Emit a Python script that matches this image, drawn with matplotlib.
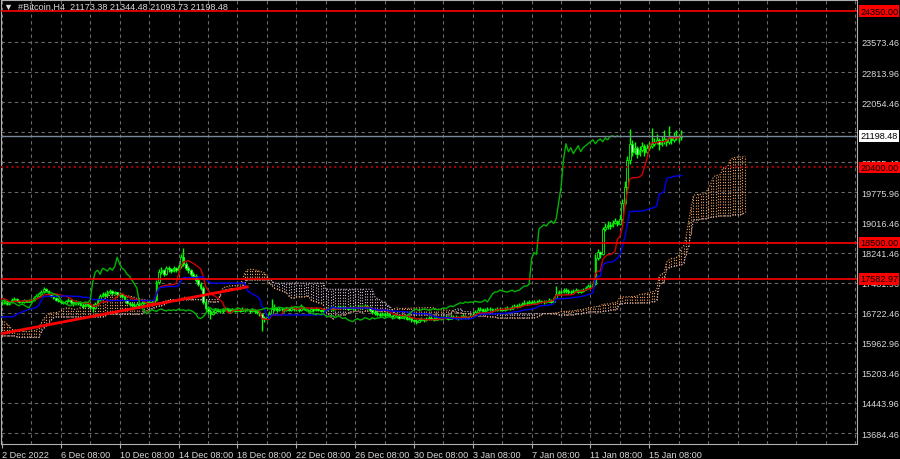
import numpy as np
import pandas as pd
import matplotlib.pyplot as plt
from matplotlib.transforms import blended_transform_factory

plt.rcParams['font.family'] = ['Liberation Sans', 'DejaVu Sans']

# 4h bars before 2 Dec (off the left edge, only feed the Ichimoku lines)
pre_close = [16650, 16680, 16620, 16700, 16660, 16690,
             16720, 16650, 16580, 16500, 16400, 16300,
             16200, 16100, 15900, 15800, 15650, 15750,
             15800, 15700, 15850, 16000, 16150, 16200,
             16250, 16300, 16400, 16500, 16550, 16600,
             16620, 16580, 16600, 16550, 16600, 16580,
             16550, 16500, 16520, 16480, 16500, 16520,
             16500, 16550, 16520, 16540, 16500, 16480,
             16500, 16520, 16480, 16450, 16420, 16400,
             16300, 16200, 16100, 16050, 16150, 16200,
             16250, 16300, 16350, 16400, 16420, 16450,
             16500, 16600, 16800, 17000, 17100, 17150,
             17100, 17050, 17000, 16980, 16950, 16960]
pre_high = [16700, 16730, 16700, 16740, 16720, 16730,
            16780, 16740, 16660, 16600, 16520, 16420,
            16330, 16230, 16120, 15930, 15820, 15820,
            15880, 15830, 15900, 16060, 16200, 16260,
            16300, 16350, 16450, 16560, 16610, 16650,
            16700, 16650, 16640, 16620, 16640, 16630,
            16600, 16560, 16560, 16540, 16540, 16560,
            16540, 16590, 16580, 16580, 16560, 16530,
            16540, 16560, 16540, 16500, 16470, 16450,
            16420, 16320, 16220, 16130, 16180, 16240,
            16290, 16340, 16390, 16440, 16460, 16490,
            16540, 16650, 16850, 17050, 17150, 17250,
            17200, 17120, 17080, 17030, 17000, 16990]
pre_low = [16600, 16630, 16580, 16610, 16630, 16640,
           16670, 16620, 16550, 16460, 16360, 16260,
           16160, 16050, 15850, 15700, 15500, 15620,
           15720, 15620, 15680, 15820, 15960, 16120,
           16160, 16220, 16280, 16380, 16480, 16540,
           16570, 16540, 16550, 16500, 16530, 16540,
           16510, 16470, 16470, 16440, 16450, 16480,
           16470, 16480, 16490, 16500, 16470, 16450,
           16460, 16470, 16440, 16400, 16390, 16360,
           16250, 16150, 16000, 15990, 16030, 16130,
           16180, 16230, 16280, 16330, 16380, 16400,
           16430, 16480, 16580, 16780, 16980, 17080,
           17030, 16990, 16950, 16930, 16900, 16910]

# visible 4h bars, 2 Dec 08:00 onwards
close = [16980, 17020, 16950, 17000, 17060, 17080, 17030, 17000, 16990, 17040, 17010, 17030,
         17050, 17100, 17150, 17200, 17250, 17320, 17280, 17200, 17150, 17100, 17060, 17020,
         17000, 16980, 17020, 17050, 16990, 16950, 17000, 16970, 16930, 16900, 16950, 16920,
         16880, 16850, 16950, 17050, 17150, 17200, 17180, 17250, 17270, 17220, 17240, 17200,
         17180, 17150, 17050, 16980, 16950, 16920, 16900, 16950, 16930, 16980, 17000, 16970,
         17000, 16980, 17050, 17500, 17750, 17800, 17700, 17850, 17820, 17780, 17860, 17800,
         17900, 18130, 17950, 17850, 17800, 17700, 17650, 17550, 17450, 17350, 17000, 16850,
         16780, 16700, 16750, 16800, 16780, 16760, 16800, 16820, 16790, 16770, 16800, 16780,
         16800, 16780, 16820, 16790, 16800, 16770, 16800, 16780, 16750, 16700, 16600, 16580,
         16620, 16700, 16820, 16850, 16800, 16830, 16810, 16790, 16820, 16800, 16840, 16810,
         16820, 16800, 16850, 16830, 16800, 16780, 16810, 16790, 16820, 16800, 16780, 16800,
         16810, 16830, 16850, 16820, 16840, 16860, 16850, 16870, 16850, 16830, 16860, 16840,
         16850, 16870, 16880, 16860, 16900, 16870, 16800, 16750, 16720, 16700, 16680, 16700,
         16680, 16700, 16650, 16620, 16660, 16640, 16600, 16650, 16620, 16580, 16600, 16550,
         16520, 16500, 16550, 16580, 16540, 16560, 16600, 16580, 16550, 16600, 16570, 16590,
         16600, 16620, 16580, 16610, 16630, 16600, 16590, 16620, 16640, 16610, 16600, 16650,
         16680, 16750, 16800, 16820, 16780, 16800, 16820, 16810, 16790, 16800, 16830, 16810,
         16800, 16820, 16850, 16830, 16870, 16900, 16880, 16920, 16950, 16980, 16960, 17000,
         16980, 17000, 16990, 17020, 17000, 16990, 17010, 17050, 17000, 17100, 17200, 17250,
         17250, 17300, 17280, 17260, 17250, 17270, 17300, 17260, 17280, 17300, 17350, 17400,
         17400, 17450, 18100, 18250, 18200, 18850, 18900, 18950, 18920, 19000, 19050, 18980,
         19100, 19500, 19900, 20600, 21000, 20800, 20900, 20750, 20850, 20950, 20800, 20900,
         20950, 21000, 21050, 21100, 21000, 21080, 21120, 21050, 21150, 21100, 21180, 21200,
         21173.38, 21198.48]
high = [17020, 17060, 17040, 17030, 17100, 17130, 17090, 17050, 17030, 17080, 17060, 17070,
        17090, 17140, 17190, 17240, 17300, 17380, 17350, 17300, 17230, 17180, 17130, 17090,
        17060, 17030, 17060, 17090, 17070, 17010, 17040, 17030, 16990, 16960, 16990, 16980,
        16950, 16920, 16990, 17100, 17200, 17260, 17240, 17300, 17330, 17290, 17280, 17260,
        17240, 17220, 17170, 17080, 17010, 16990, 16960, 17000, 16990, 17030, 17050, 17030,
        17050, 17040, 17100, 17560, 17820, 17880, 17830, 17920, 17900, 17870, 17920, 17890,
        17960, 18200, 18370, 18000, 17900, 17840, 17760, 17700, 17600, 17500, 17400, 17050,
        16900, 16820, 16800, 16850, 16840, 16820, 16850, 16870, 16850, 16820, 16840, 16830,
        16840, 16830, 16880, 16850, 16840, 16820, 16850, 16830, 16800, 16780, 16720, 16650,
        16680, 16760, 17070, 16950, 16880, 16880, 16860, 16840, 16870, 16850, 16890, 16860,
        16870, 16850, 16950, 16880, 16850, 16830, 16860, 16840, 16870, 16850, 16830, 16850,
        16850, 16880, 16900, 16880, 16890, 16910, 16900, 16920, 16900, 16880, 16910, 16890,
        16900, 16920, 16930, 16910, 16950, 16930, 16890, 16830, 16790, 16760, 16740, 16750,
        16740, 16750, 16720, 16680, 16700, 16690, 16660, 16690, 16670, 16640, 16640, 16610,
        16580, 16560, 16600, 16630, 16600, 16610, 16650, 16640, 16610, 16650, 16630, 16640,
        16650, 16670, 16640, 16660, 16680, 16660, 16640, 16670, 16690, 16670, 16650, 16700,
        16720, 16800, 16860, 16880, 16850, 16850, 16870, 16860, 16840, 16850, 16880, 16860,
        16850, 16870, 16900, 16880, 16920, 16950, 16940, 16970, 17000, 17040, 17020, 17050,
        17040, 17050, 17040, 17070, 17060, 17040, 17060, 17100, 17070, 17150, 17400, 17300,
        17300, 17360, 17340, 17320, 17300, 17320, 17350, 17330, 17330, 17350, 17400, 17460,
        17460, 17520, 18200, 18340, 18300, 18900, 19000, 19050, 19020, 19080, 19120, 19080,
        19200, 19600, 20050, 20700, 21370, 21100, 21050, 20950, 20950, 21050, 21000, 21000,
        21050, 21400, 21150, 21250, 21150, 21200, 21350, 21150, 21450, 21200, 21300, 21350,
        21250, 21344.48]
low = [16920, 16950, 16930, 16920, 16980, 17030, 17000, 16970, 16960, 16970, 16990, 16990,
       17000, 17020, 17080, 17120, 17170, 17220, 17250, 17180, 17120, 17080, 17030, 16990,
       16960, 16940, 16960, 16990, 16950, 16900, 16930, 16930, 16890, 16850, 16880, 16880,
       16820, 16740, 16830, 16930, 17030, 17120, 17130, 17150, 17210, 17180, 17190, 17150,
       17130, 17100, 17010, 16940, 16900, 16880, 16860, 16880, 16890, 16910, 16950, 16930,
       16940, 16940, 16960, 17030, 17450, 17700, 17650, 17680, 17760, 17720, 17750, 17750,
       17760, 17870, 17900, 17800, 17730, 17650, 17580, 17500, 17400, 17300, 16950, 16780,
       16700, 16580, 16660, 16720, 16740, 16710, 16730, 16770, 16750, 16730, 16740, 16740,
       16750, 16740, 16760, 16750, 16760, 16720, 16750, 16730, 16700, 16650, 16270, 16500,
       16540, 16600, 16680, 16780, 16740, 16770, 16760, 16750, 16770, 16760, 16780, 16770,
       16770, 16750, 16780, 16790, 16760, 16740, 16760, 16750, 16770, 16760, 16740, 16750,
       16770, 16790, 16800, 16780, 16800, 16820, 16810, 16830, 16810, 16790, 16820, 16800,
       16800, 16820, 16840, 16820, 16850, 16830, 16760, 16700, 16680, 16650, 16630, 16650,
       16630, 16650, 16610, 16580, 16600, 16600, 16560, 16590, 16580, 16540, 16550, 16500,
       16480, 16450, 16480, 16520, 16500, 16510, 16540, 16540, 16510, 16540, 16530, 16550,
       16550, 16570, 16540, 16560, 16590, 16560, 16550, 16570, 16600, 16570, 16560, 16590,
       16620, 16660, 16730, 16770, 16740, 16750, 16770, 16770, 16750, 16760, 16780, 16770,
       16760, 16780, 16800, 16790, 16820, 16850, 16840, 16870, 16900, 16930, 16920, 16940,
       16940, 16950, 16950, 16970, 16960, 16950, 16960, 17000, 16960, 16990, 17090, 17180,
       17200, 17230, 17230, 17210, 17200, 17220, 17250, 17220, 17230, 17250, 17290, 17340,
       17340, 17380, 17440, 18050, 18100, 18180, 18800, 18850, 18850, 18900, 18960, 18920,
       18950, 19050, 19450, 19850, 20500, 20700, 20750, 20650, 20700, 20800, 20700, 20750,
       20850, 20900, 20950, 21000, 20850, 20950, 21000, 20950, 21000, 21000, 21050, 21100,
       21050, 21093.73]

date_labels = ['2 Dec 2022', '6 Dec 08:00', '10 Dec 08:00', '14 Dec 08:00', '18 Dec 08:00',
               '22 Dec 08:00', '26 Dec 08:00', '30 Dec 08:00', '3 Jan 08:00', '7 Jan 08:00',
               '11 Jan 08:00', '15 Jan 08:00']
price_ticks = [13684.46, 14443.96, 15203.46, 15962.96, 16722.46, 17481.96, 18241.46,
               19016.46, 19775.96, 20535.46, 21294.96, 22054.46, 22813.96, 23573.46]
solid_levels = [24350.00, 18500.00, 17582.97]
dotted_level = 20400.00
last_price = 21198.48
trend_x = [-0.8, 100]
trend_y = [16190, 17380]
title = '#Bitcoin,H4  21173.38 21344.48 21093.73 21198.48'

# ---- data prep
c = np.array(pre_close + close, dtype=float)
h = np.array(pre_high + high, dtype=float)
l = np.array(pre_low + low, dtype=float)
o = np.r_[c[0], c[:-1]]
o[-1] = 21173.38
x = np.arange(len(c)) - len(pre_close)

hs, ls = pd.Series(h), pd.Series(l)
tenkan = ((hs.rolling(9).max() + ls.rolling(9).min()) / 2).values
kijun = ((hs.rolling(26).max() + ls.rolling(26).min()) / 2).values
span_a = (tenkan + kijun) / 2
span_b = ((hs.rolling(52).max() + ls.rolling(52).min()) / 2).values

BG = '#000000'
GRID = '#6a6a6a'
TXT = '#d8d8d8'
FS = 6.6

fig = plt.figure(figsize=(9, 4.6), dpi=100, facecolor=BG)
ax = fig.add_axes([1 / 900, 15 / 460, 856 / 900, 444 / 460], facecolor=BG)
ax.set_xlim(-0.41, 348.7)
ax.set_ylim(13406.3, 24635.6)

# grid
for gx in np.arange(0, 349, 12):
    ax.axvline(gx, color=GRID, lw=0.8, ls=(0, (3, 3)), zorder=0)
for gy in price_ticks:
    ax.axhline(gy, color=GRID, lw=0.8, ls=(0, (3, 3)), zorder=0)

# cloud (dotted hatch between senkou A and B, shifted 26 bars forward)
xs = x + 26
ok = ~np.isnan(span_b)
cols = np.where(span_a[ok] >= span_b[ok], '#f4a460', '#d8bfd8')
ax.vlines(xs[ok], np.minimum(span_a[ok], span_b[ok]), np.maximum(span_a[ok], span_b[ok]),
          colors=cols, linestyles=(0, (1, 1.5)), lw=0.8, zorder=1)
ax.plot(xs, span_a, color='#f4a460', lw=0.8, ls=(0, (1, 1.5)), zorder=1)
ax.plot(xs, span_b, color='#d8bfd8', lw=0.8, ls=(0, (1, 1.5)), zorder=1)

# candles
vis = x >= 0
xv, ov, hv, lv, cv = x[vis], o[vis], h[vis], l[vis], c[vis]
ax.vlines(xv, lv, hv, color='#00ff00', lw=1.0, zorder=2)
bull = cv >= ov
body = np.maximum(np.abs(cv - ov), 8)
ax.bar(xv[bull], body[bull], bottom=np.minimum(ov, cv)[bull], width=0.7,
       color='#000000', edgecolor='#00ff00', lw=0.6, zorder=2)
ax.bar(xv[~bull], body[~bull], bottom=np.minimum(ov, cv)[~bull], width=0.7,
       color='#d8ffd8', edgecolor='#00ff00', lw=0.6, zorder=2)

# ichimoku lines
ax.plot(x, tenkan, color='#d00000', lw=1.0, zorder=3)
ax.plot(x, kijun, color='#0000ee', lw=1.0, zorder=3)
ax.plot(x[vis] - 26, c[vis], color='#00b400', lw=1.0, zorder=3)

# levels and trend line
for lv_ in solid_levels:
    ax.axhline(lv_, color='#ff0000', lw=1.2, zorder=4)
ax.axhline(dotted_level, color='#a00000', lw=1.5, ls=(0, (1, 1.5)), zorder=4)
ax.axhline(last_price, color='#778899', lw=1.0, zorder=4)
ax.plot(trend_x, trend_y, color='#ff0000', lw=2.0, zorder=4)

# axes styling
for s in ax.spines.values():
    s.set_color('#b0b0b0')
    s.set_linewidth(0.8)
ax.yaxis.tick_right()
ax.set_yticks(price_ticks)
ax.set_yticklabels([f'{v:.2f}' for v in price_ticks])
ax.tick_params(axis='y', length=0, pad=3, labelsize=FS, labelcolor=TXT)
ax.set_xticks(np.arange(len(date_labels)) * 24)
ax.set_xticklabels(date_labels)
ax.tick_params(axis='x', length=3, width=0.8, color='#b0b0b0', pad=1.5, labelsize=FS, labelcolor=TXT)
for lab in ax.get_xticklabels():
    lab.set_ha('left')

# price labels in the right scale
tr = blended_transform_factory(ax.transAxes, ax.transData)
for lv_ in solid_levels + [dotted_level]:
    ax.text(1.0035, lv_, f'{lv_:.2f}', transform=tr, fontsize=FS, color='#000000', va='center',
            ha='left', clip_on=False, zorder=20,
            bbox=dict(boxstyle='square,pad=0.15', fc='#ff0000', ec='none'))
ax.text(1.0035, last_price, f'{last_price:.2f}', transform=tr, fontsize=FS, color='#000000',
        va='center', ha='left', clip_on=False, zorder=20,
        bbox=dict(boxstyle='square,pad=0.15', fc='#ffffff', ec='none'))

fig.text(4 / 900, 1 - 7 / 460, '\u25bc  ' + title, fontsize=FS, color=TXT, va='center', ha='left')

fig.savefig('out.png', dpi=100, facecolor=BG)
